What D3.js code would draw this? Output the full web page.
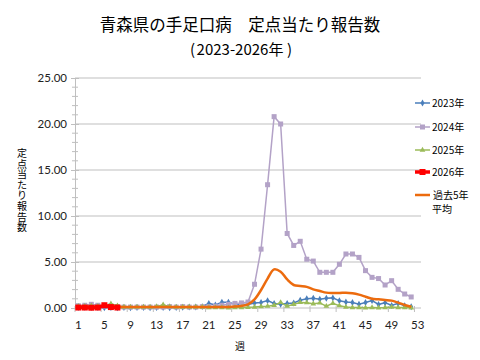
<!DOCTYPE html>
<html><head><meta charset="utf-8">
<script src="https://cdn.jsdelivr.net/npm/d3@7"></script>
<style>
html,body{margin:0;padding:0;background:#fff;}
body{position:relative;width:480px;height:360px;overflow:hidden;}
svg{display:block;position:absolute;left:0;top:0;}
#ytitle{position:absolute;left:16px;top:148px;width:12px;font-size:10px;line-height:10.6px;
  text-align:center;word-break:break-all;
  font-family:'Noto Sans CJK JP','Noto Sans',sans-serif;color:#000;}
</style></head>
<body>
<svg id="chart" width="480" height="360"></svg>
<div id="ytitle"></div>
<script>
const weeks = d3.range(1, 54);
const xTickLabels = [1,5,9,13,17,21,25,29,33,37,41,45,49,53];
const yTicks = [0,5,10,15,20,25];
const seriesNames = ["2023年","2024年","2025年","2026年","過去5年平均"];

const v2023 = [0.05,0.08,0.05,0.05,0.03,0.05,0.03,0.05,0.03,0.05,0.05,0.03,0.05,0.05,0.03,0.05,0.08,0.1,0.1,0.15,
  0.5,0.33,0.62,0.62,0.4,0.4,0.38,0.55,0.6,0.8,0.5,0.4,0.5,0.55,0.85,1.0,1.05,0.95,1.05,1.1,
  0.78,0.65,0.6,0.4,0.6,0.8,0.38,0.58,0.28,0.5,0.25,0.14];
const v2024 = [0.25,0.3,0.4,0.3,0.2,0.2,0.15,0.1,0.1,0.1,0.1,0.1,0.1,0.1,0.15,0.1,0.15,0.1,0.1,0.15,
  0.15,0.2,0.3,0.4,0.5,0.55,0.65,2.58,6.4,13.4,20.8,20.0,8.1,6.8,7.25,5.3,5.1,3.88,3.88,3.88,
  4.75,5.87,5.87,5.5,4.06,3.33,3.2,2.5,2.97,2.03,1.52,1.2];
const v2025 = [0.2,0.2,0.25,0.2,0.25,0.45,0.25,0.1,0.1,0.1,0.1,0.1,0.15,0.35,0.15,0.1,0.1,0.1,0.1,0.1,
  0.05,0.05,0.05,0.02,0.05,0.05,0.08,0.1,0.15,0.2,0.3,0.6,0.2,0.4,0.6,0.58,0.45,0.55,0.2,0.5,
  0.25,0.1,0.05,0.05,0.02,0.05,0.02,0.05,0.1,0.05,0.05,0.02];
const v2026 = [0.05,0.05,0.03,0.05,0.3,0.1,0.05];
const vAvg = [0.15,0.15,0.15,0.15,0.15,0.15,0.12,0.1,0.1,0.1,0.1,0.1,0.1,0.1,0.1,0.1,0.1,0.1,0.1,0.1,
  0.1,0.1,0.12,0.12,0.15,0.22,0.4,0.94,1.96,3.2,4.2,3.95,3.1,2.5,2.4,2.3,2.03,1.85,1.67,1.63,
  1.63,1.67,1.6,1.45,1.23,1.0,0.94,0.87,0.8,0.58,0.33,0.14];

const svg = d3.select("#chart");
const L = 75, R = 421, T = 78, B = 308;
const x = d3.scaleBand().domain(weeks).range([L, R]);
const xc = w => x(w) + x.bandwidth()/2;
const y = d3.scaleLinear().domain([0,25]).range([B, T]);

const jp = "'Noto Sans CJK JP','Noto Sans',sans-serif";
const num = "Lato,'Liberation Sans',sans-serif";

// title
svg.append("text").attr("x",240).attr("y",31).attr("text-anchor","middle")
  .attr("font-family",jp).attr("font-size",16.5).attr("fill","#000")
  .text("青森県の手足口病　定点当たり報告数");
const sub = svg.append("text").attr("y",55)
  .attr("font-family",jp).attr("font-size",15).attr("fill","#000");
sub.append("tspan").attr("x",190).text("(");
sub.append("tspan").attr("x",240).attr("text-anchor","middle").text("2023-2026年");
sub.append("tspan").attr("x",287).text(")");

// gridlines
svg.append("g").selectAll("line").data(yTicks.filter(d=>d>0)).join("line")
  .attr("x1",L).attr("x2",R).attr("y1",d=>y(d)).attr("y2",d=>y(d))
  .attr("stroke","#bfbfbf").attr("stroke-width",1);

// y axis
const yAxis = d3.axisLeft(y).tickValues(yTicks).tickFormat(d3.format(".2f")).tickSize(4);
const gy = svg.append("g").attr("transform",`translate(${L},0)`).call(yAxis);
gy.select(".domain").attr("stroke","#bfbfbf");
gy.selectAll(".tick line").attr("stroke","#bfbfbf").attr("x2",-4).attr("x1",4);
gy.selectAll("text").attr("font-family",num).attr("font-size",11.5).attr("fill","#222").attr("x",-8);
const minor = d3.range(0,26).filter(d=>d%5!==0);
svg.append("g").selectAll("line").data(minor).join("line")
  .attr("x1",L-3).attr("x2",L+3).attr("y1",d=>y(d)).attr("y2",d=>y(d))
  .attr("stroke","#bfbfbf");

// x axis
const gx = svg.append("g").attr("transform",`translate(0,${B})`);
gx.append("line").attr("x1",L).attr("x2",R).attr("stroke","#bfbfbf");
const bounds = d3.range(0,54,4);
gx.selectAll("line.t").data(bounds).join("line").attr("class","t")
  .attr("x1",d=>L + d*x.step()).attr("x2",d=>L + d*x.step())
  .attr("y1",-2).attr("y2",4).attr("stroke","#bfbfbf");
gx.selectAll("text").data(xTickLabels).join("text")
  .attr("x",d=>xc(d)).attr("y",21).attr("text-anchor","middle")
  .attr("font-family",num).attr("font-size",11.5).attr("fill","#222").text(d=>d);

// axis titles
svg.append("text").attr("x",240).attr("y",350).attr("text-anchor","middle")
  .attr("font-family",jp).attr("font-size",10).attr("fill","#000").text("週");
d3.select("#ytitle").text("定点当たり報告数");

const line = d3.line().x(d=>xc(d.w)).y(d=>y(d.v));
const toPts = arr => arr.map((v,i)=>({w:i+1,v}));

const colors = ["#4a7ebb","#b3a2c7","#9bbb59","#ff0000","#ec6b0e"];

function marker(g, pts, type, color, size){
  if(type==="diamond"){
    g.selectAll("path").data(pts).join("path")
      .attr("d",d3.symbol(d3.symbolDiamond, size))
      .attr("transform",d=>`translate(${xc(d.w)},${y(d.v)})`).attr("fill",color);
  } else if(type==="square"){
    g.selectAll("rect").data(pts).join("rect")
      .attr("x",d=>xc(d.w)-size/2).attr("y",d=>y(d.v)-size/2)
      .attr("width",size).attr("height",size).attr("fill",color);
  } else if(type==="triangle"){
    g.selectAll("path").data(pts).join("path")
      .attr("d",d3.symbol(d3.symbolTriangle, size))
      .attr("transform",d=>`translate(${xc(d.w)},${y(d.v)})`).attr("fill",color);
  }
}

const specs = [
  {vals:v2023, c:colors[0], w:1.5, m:"diamond", s:14},
  {vals:v2024, c:colors[1], w:1.5, m:"square", s:5},
  {vals:v2025, c:colors[2], w:1.5, m:"triangle", s:14},
];
specs.forEach(sp=>{
  const pts = toPts(sp.vals);
  svg.append("path").datum(pts).attr("d",line).attr("fill","none")
    .attr("stroke",sp.c).attr("stroke-width",sp.w);
  marker(svg.append("g"), pts, sp.m, sp.c, sp.s);
});
// average (smoothed)
svg.append("path").datum(toPts(vAvg))
  .attr("d",d3.line().x(d=>xc(d.w)).y(d=>y(d.v)).curve(d3.curveCatmullRom.alpha(0.5)))
  .attr("fill","none").attr("stroke",colors[4]).attr("stroke-width",2.5);
// 2026
const p26 = toPts(v2026);
svg.append("path").datum(p26).attr("d",line).attr("fill","none")
  .attr("stroke",colors[3]).attr("stroke-width",3.5);
marker(svg.append("g"), p26, "square", colors[3], 6);

// legend
const legY = [103,127,150,172,195];
const lg = svg.append("g");
seriesNames.forEach((n,i)=>{
  const yy = legY[i];
  lg.append("line").attr("x1",415).attr("x2",430).attr("y1",yy).attr("y2",yy)
    .attr("stroke",colors[i]).attr("stroke-width", i===3?3.5:(i===4?2.5:1.5));
  if(i===0) lg.append("path").attr("d",d3.symbol(d3.symbolDiamond,14)).attr("transform",`translate(422.5,${yy})`).attr("fill",colors[0]);
  if(i===1) lg.append("rect").attr("x",420).attr("y",yy-2.5).attr("width",5).attr("height",5).attr("fill",colors[1]);
  if(i===2) lg.append("path").attr("d",d3.symbol(d3.symbolTriangle,14)).attr("transform",`translate(422.5,${yy})`).attr("fill",colors[2]);
  if(i===3) lg.append("rect").attr("x",419.5).attr("y",yy-3).attr("width",6).attr("height",6).attr("fill",colors[3]);
  if(i<4){
    lg.append("text").attr("x",432).attr("y",yy+4).attr("font-family",jp).attr("font-size",10)
      .attr("fill","#000").text(n);
  } else {
    const t = lg.append("text").attr("font-family",jp).attr("font-size",10).attr("fill","#000");
    t.append("tspan").attr("x",433).attr("y",yy+3.5).text("過去5年");
    t.append("tspan").attr("x",432).attr("y",yy+18.3).text("平均");
  }
});
</script>
</body></html>
